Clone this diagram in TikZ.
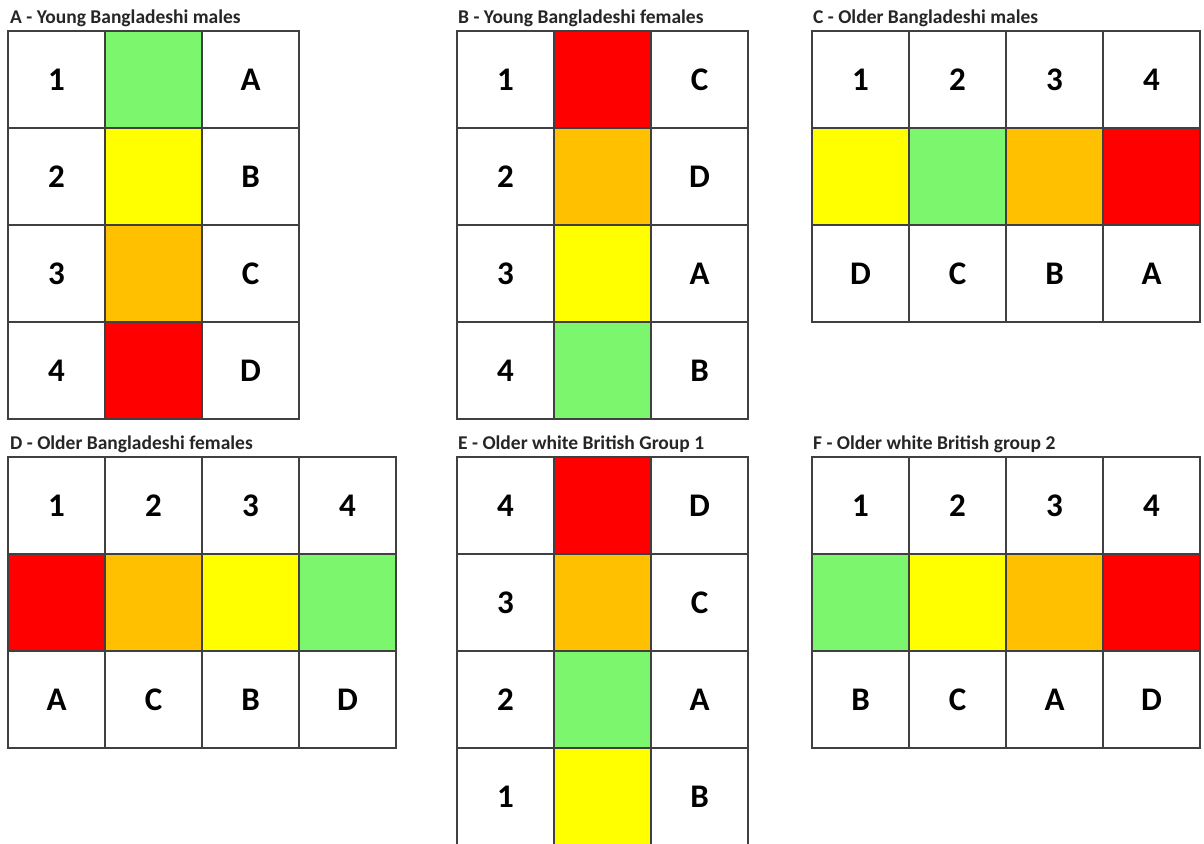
\documentclass[tikz,border=0pt]{standalone}
\usepackage{fontspec}
\setmainfont{Carlito}
\usetikzlibrary{positioning}

\definecolor{cgreen}{HTML}{7CF66C}
\definecolor{cyellow}{HTML}{FFFF00}
\definecolor{corange}{HTML}{FFC000}
\definecolor{cred}{HTML}{FF0000}
\definecolor{gridline}{HTML}{404040}

\tikzset{
  cell/.style={draw=gridline, line width=1.2pt, minimum width=97pt, minimum height=97pt,
    inner sep=0pt, outer sep=0pt, anchor=north west, font=\fontsize{33}{33}\selectfont\bfseries},
  paneltitle/.style={anchor=base west, inner sep=0pt, font=\fontsize{19.5}{19.5}\selectfont\bfseries, text=black!85}
}

% column layout: number | colour | letter, one row per entry
\newcommand{\vgrid}[4]{%
  \foreach \n/\c/\l [count=\i from 0] in {#4}{
    \node[cell] (#1-n\i) at (#2,#3+97*\i) {\n};
    \node[cell,fill=\c] (#1-c\i) at (#2+97,#3+97*\i) {};
    \node[cell] (#1-l\i) at (#2+194,#3+97*\i) {\l};
  }}
% row layout: numbers on top, colours, letters below
\newcommand{\hgrid}[4]{%
  \foreach \n/\c/\l [count=\i from 0] in {#4}{
    \node[cell] (#1-n\i) at (#2+97*\i,#3) {\n};
    \node[cell,fill=\c] (#1-c\i) at (#2+97*\i,#3+97) {};
    \node[cell] (#1-l\i) at (#2+97*\i,#3+194) {\l};
  }}

\begin{document}
\begin{tikzpicture}[x=1pt,y=-1pt]
\useasboundingbox[fill=white] (0,0) rectangle (1204,843);

\node[paneltitle] (a-title) at (10,24) {A - Young Bangladeshi males};
\vgrid{a}{8}{31}{1/cgreen/A,2/cyellow/B,3/corange/C,4/cred/D}

\node[paneltitle] (b-title) at (458,24) {B - Young Bangladeshi females};
\vgrid{b}{457}{31}{1/cred/C,2/corange/D,3/cyellow/A,4/cgreen/B}

\node[paneltitle] (c-title) at (813,24) {C - Older Bangladeshi males};
\hgrid{c}{812}{31}{1/cyellow/D,2/cgreen/C,3/corange/B,4/cred/A}

\node[paneltitle] (d-title) at (10,449) {D - Older Bangladeshi females};
\hgrid{d}{8}{457}{1/cred/A,2/corange/C,3/cyellow/B,4/cgreen/D}

\node[paneltitle] (e-title) at (458,449) {E - Older white British Group 1};
\vgrid{e}{457}{457}{4/cred/D,3/corange/C,2/cgreen/A,1/cyellow/B}

\node[paneltitle] (f-title) at (813,449) {F - Older white British group 2};
\hgrid{f}{812}{457}{1/cgreen/B,2/cyellow/C,3/corange/A,4/cred/D}
\end{tikzpicture}
\end{document}
